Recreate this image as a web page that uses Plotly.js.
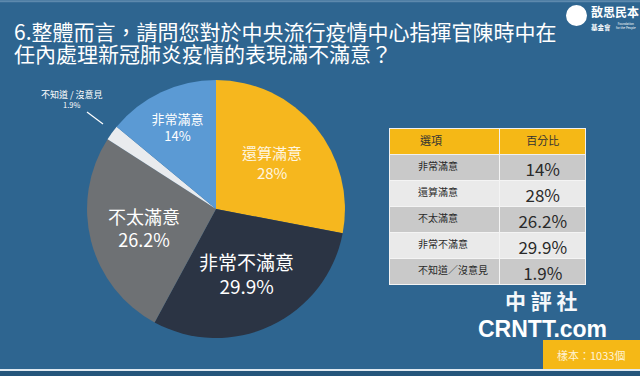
<!DOCTYPE html>
<html><head><meta charset="utf-8">
<script src="https://cdn.plot.ly/plotly-3.0.1.min.js"></script>
<style>html,body{margin:0;padding:0;background:#2e6590;}#c{width:640px;height:376px;}</style>
</head><body><div id="c"></div>
<script>
const categories = ["還算滿意","非常不滿意","不太滿意","不知道 / 沒意見","非常滿意"];
const values = [28, 29.9, 26.2, 1.9, 14];
const tableLabels = ["非常滿意","還算滿意","不太滿意","非常不滿意","不知道／沒意見"];
const tableValues = [14, 28, 26.2, 29.9, 1.9];
const sampleSize = 1033;
const titleLines = ["6.整體而言，請問您對於中央流行疫情中心指揮官陳時中在", "任內處理新冠肺炎疫情的表現滿不滿意？"];

const FONT = "Noto Sans CJK TC, Noto Sans, sans-serif";
const sliceColors = ["#f6b71e","#2b3444","#6e7174","#e9ebee","#5b9ad4"];

const pie = {
  type: "pie",
  labels: categories,
  values: values,
  sort: false,
  direction: "clockwise",
  rotation: 0,
  marker: {colors: sliceColors, line: {color: "#2e6590", width: 0}},
  domain: {x: [0.136, 0.539], y: [0.101, 0.787]},
  texttemplate: "%{label}<br>%{value}%",
  textposition: ["inside","inside","inside","none","inside"],
  insidetextorientation: "horizontal",
  textfont: {family: FONT, size: [15, 19, 18, 10, 13], color: ["#fff6e0","#ffffff","#ffffff","#ffffff","#ffffff"]},
  hoverinfo: "none",
  showlegend: false
};

const table = {
  type: "table",
  domain: {x: [0.609, 0.916], y: [0.242, 0.657]},
  columnwidth: [110, 86],
  header: {
    values: ["         選項", "百分比"],
    align: ["left", "center"],
    fill: {color: "#f5b816"},
    line: {color: "#f0f0f0", width: 1},
    font: {family: FONT, size: 11, color: "#333333"},
    height: 26
  },
  cells: {
    values: [tableLabels.map(s => "         " + s), tableValues.map(v => v + "%")],
    align: ["left", "center"],
    fill: {color: [["#c9c9c9","#eaeaea","#c9c9c9","#eaeaea","#c9c9c9"]]},
    line: {color: "#f4f4f4", width: 1},
    font: {family: FONT, size: [10, 17], color: "#2a2a2a"},
    height: 26
  }
};

const P = (px, py) => ({x: px/640, y: 1 - py/376});

const layout = {
  width: 640, height: 376,
  margin: {l: 0, r: 0, t: 0, b: 0},
  paper_bgcolor: "#2e6590",
  plot_bgcolor: "#2e6590",
  font: {family: FONT, color: "#ffffff"},
  shapes: [
    {type: "line", xref: "paper", yref: "paper", x0: 0, x1: 1, y0: 0.997, y1: 0.997, line: {color: "#5d89ad", width: 2}},
    {type: "rect", xref: "paper", yref: "paper", x0: 0, x1: 1, y0: 0, y1: 0.013, line: {width: 0}, fillcolor: "#24557b"},
    {type: "line", xref: "paper", yref: "paper", x0: 0, x1: 1, y0: 0.016, y1: 0.016, line: {color: "#dfe9f1", width: 2}},
    {type: "rect", xref: "paper", yref: "paper", x0: 543/640, x1: 1, y0: 7/376, y1: 36/376, line: {width: 0}, fillcolor: "#f5b816"},
    {type: "circle", xref: "paper", yref: "paper", x0: 566/640, x1: 587/640, y0: 1-26/376, y1: 1-5/376, line: {width: 0}, fillcolor: "#ffffff"},
    {type: "line", xref: "paper", yref: "paper", x0: 87/640, x1: 103/640, y0: 1-112/376, y1: 1-124/376, line: {color: "#ffffff", width: 1.2}}
  ],
  annotations: [
    Object.assign({text: "<span style='font-size:21px'>" + titleLines[0] + "</span><br><span style='font-size:21px'>" + titleLines[1] + "</span>",
     xref: "paper", yref: "paper", xanchor: "left", yanchor: "middle", align: "left", showarrow: false,
     font: {family: FONT, size: 17, color: "#ffffff"}}, P(12, 42)),
    Object.assign({text: "<span style='font-size:9px'>不知道 / 沒意見</span><br><span style='font-size:7.5px'>1.9%</span>",
     xref: "paper", yref: "paper", xanchor: "center", yanchor: "middle", align: "center", showarrow: false,
     font: {family: FONT, size: 8, color: "#ffffff"}}, P(72, 99)),
    Object.assign({text: "樣本：" + sampleSize + "個", xref: "paper", yref: "paper", xanchor: "center", yanchor: "middle", showarrow: false,
     font: {family: FONT, size: 11, color: "#fff3d6"}}, P(591, 355)),
    Object.assign({text: "<span style='font-size:12px'><b>敔思民本</b></span><br><span style='font-size:6.5px'><b>基金會</b>    </span>",
     xref: "paper", yref: "paper", xanchor: "left", yanchor: "middle", align: "left", showarrow: false,
     font: {family: FONT, size: 10, color: "#ffffff"}}, P(589, 18)),
    Object.assign({text: "Foundation<br>for the People", xref: "paper", yref: "paper", xanchor: "left", yanchor: "middle", showarrow: false,
     font: {family: FONT, size: 3, color: "#ffffff"}}, P(614, 26)),
    Object.assign({text: "<b>中 評 社</b>", xref: "paper", yref: "paper", xanchor: "center", yanchor: "middle", showarrow: false,
     font: {family: FONT, size: 21, color: "#f4f8fb"}}, P(541, 300)),
    Object.assign({text: "<b>CRNTT.com</b>", xref: "paper", yref: "paper", xanchor: "center", yanchor: "middle", showarrow: false,
     font: {family: "Liberation Sans, Arial, sans-serif", size: 23, color: "#ffffff"}}, P(542, 329))
  ]
};

Plotly.newPlot("c", [pie, table], layout, {displayModeBar: false, staticPlot: true});
</script>
</body></html>
